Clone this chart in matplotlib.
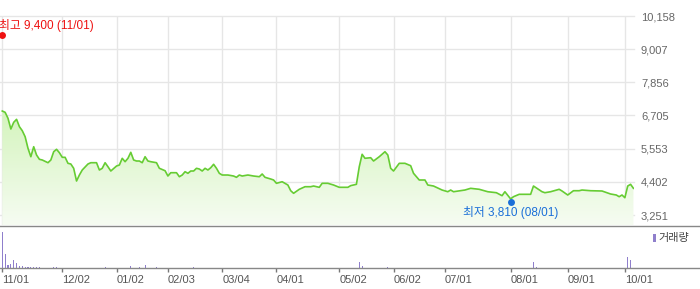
import numpy as np
import matplotlib
matplotlib.use('Agg')
import matplotlib.pyplot as plt
import matplotlib.transforms as mtransforms
from matplotlib.colors import LinearSegmentedColormap
from matplotlib.lines import Line2D
from matplotlib.patches import Rectangle

plt.rcParams['font.family'] = ['Liberation Sans', 'Noto Sans CJK KR']

# trading day index (0 = 11/01) and closing price
day = [0, 1, 2, 3, 4, 5, 6, 7, 8, 9, 10, 11, 12, 13, 14, 16, 17, 18, 19, 20,
       21, 22, 23, 24, 25, 26, 27, 28, 30, 31, 33, 34, 35, 36, 37, 38, 40, 41, 42, 43,
       44, 45, 46, 47, 48, 49, 50, 51, 52, 54, 55, 57, 58, 59, 61, 62, 63, 64, 65, 66,
       67, 68, 69, 70, 71, 72, 73, 74, 75, 76, 77, 79, 81, 82, 83, 84, 86, 88, 90, 91,
       92, 94, 95, 96, 98, 100, 101, 102, 104, 106, 108, 109, 111, 112, 114, 116, 118, 121, 122, 124,
       125, 126, 127, 129, 130, 132, 134, 135, 136, 137, 139, 141, 143, 144, 146, 148, 149, 151, 152, 154,
       156, 157, 158, 162, 164, 167, 170, 173, 175, 176, 178, 179, 181, 185, 186, 189, 190, 192, 195, 196,
       198, 200, 202, 203, 206, 210, 213, 215, 216, 217, 218, 219, 220, 221]
price = [6860, 6815, 6607, 6236, 6468, 6572, 6316, 6177, 5968, 5566, 5274, 5621, 5333, 5184, 5160, 5066, 5160, 5448, 5531, 5413,
         5253, 5253, 5045, 5021, 4872, 4431, 4639, 4813, 5021, 5066, 5066, 4813, 4872, 5066, 4927, 4778, 4951, 4986, 5219, 5101,
         5219, 5427, 5160, 5125, 5125, 5066, 5274, 5125, 5101, 5066, 4872, 4788, 4604, 4719, 4719, 4580, 4639, 4754, 4698, 4778,
         4778, 4872, 4847, 4778, 4872, 4813, 4893, 5011, 4872, 4698, 4639, 4639, 4604, 4559, 4639, 4604, 4639, 4604, 4580, 4674,
         4559, 4500, 4466, 4351, 4406, 4292, 4094, 4004, 4143, 4233, 4233, 4257, 4212, 4351, 4351, 4292, 4212, 4212, 4270, 4316,
         4927, 5358, 5219, 5240, 5125, 5274, 5448, 5333, 4872, 4778, 5045, 5045, 4962, 4698, 4466, 4466, 4292, 4257, 4212, 4118,
         4059, 4118, 4059, 4118, 4177, 4143, 4059, 4025, 3921, 4059, 3810, 3886, 3969, 3969, 4257, 4059, 4025, 4059, 4143, 4084,
         3945, 4094, 4094, 4118, 4094, 4084, 3980, 3945, 3886, 3945, 3851, 4257, 4316, 4177]

# volume (relative units)
vol_day = [0, 1, 2, 3, 4, 5, 6, 7, 8, 9, 10, 11, 12, 13, 18, 19, 36, 45, 48, 50,
           54, 67, 125, 126, 135, 186, 187, 219, 220]
volume = [3630, 1370, 300, 370, 800, 470, 230, 230, 130, 130, 130, 130, 130, 130, 130, 130, 130, 230, 130, 330,
          130, 130, 570, 230, 130, 570, 130, 1070, 770]

tick_day = [0, 21, 40, 58, 77, 96, 118, 137, 155, 178, 198, 218]
tick_label = ['11/01', '12/02', '01/02', '02/03', '03/04', '04/01',
              '05/02', '06/02', '07/01', '08/01', '09/01', '10/01']
price_ticks = [3251, 4402, 5553, 6705, 7856, 9007, 10158]

high_day, high_price, high_date = 0, 9400, '11/01'
low_day, low_price, low_date = 178, 3810, '08/01'

W, H = 700, 289
fig = plt.figure(figsize=(W / 100, H / 100), dpi=100)

# price panel
ax = fig.add_axes([0, 1 - 225 / H, 634 / W, (225 - 16) / H])
for s in ax.spines.values():
    s.set_visible(False)
for p in price_ticks:
    ax.axhline(p, color='#e6e6e6', lw=1, zorder=0, clip_on=False)
for d in tick_day:
    ax.axvline(d, color='#e6e6e6', lw=1, zorder=0)
ax.set_xticks([])
ax.yaxis.tick_right()
ax.set_yticks(price_ticks)
ax.set_yticklabels(['{:,}'.format(p) for p in price_ticks])
ax.tick_params(axis='y', length=0, pad=5, labelsize=8, labelcolor='#666666')

# gradient fill under the line
cmap = LinearSegmentedColormap.from_list('g', ['#f6fcf2', '#d4f4bd'])
grad = np.linspace(0, 1, 256).reshape(-1, 1)
im = ax.imshow(grad, cmap=cmap, aspect='auto', origin='lower',
               extent=[day[0], day[-1], 2904, max(price)], zorder=1)
poly = ax.fill_between(day, price, 2904, color='none', lw=0)
im.set_clip_path(poly.get_paths()[0], transform=ax.transData)
ax.set_xlim(-0.8, 221.2)
ax.set_ylim(2904, 10158)

ax.plot(day, price, color='#66cc33', lw=1.2, zorder=3)

# high / low markers
up = ax.transData + mtransforms.ScaledTranslation(0, 0.03, fig.dpi_scale_trans)
down = ax.transData + mtransforms.ScaledTranslation(0, -0.03, fig.dpi_scale_trans)
ax.plot([high_day], [high_price], 'o', color='#ee1111', ms=5, mec='none',
        transform=up, clip_on=False, zorder=4)
ax.plot([low_day], [low_price], 'o', color='#1a6fd8', ms=5, mec='none',
        transform=down, clip_on=False, zorder=4)
ax.annotate('최고 {:,} ({})'.format(high_price, high_date), xy=(high_day, high_price),
            xytext=(-2.4, 9.2), textcoords='offset points', ha='left', va='center',
            fontsize=8.5, color='#ee1111', annotation_clip=False)
ax.annotate('최저 {:,} ({})'.format(low_price, low_date), xy=(low_day, low_price),
            xytext=(0, -9.6), textcoords='offset points', ha='center', va='center',
            fontsize=8.5, color='#1a6fd8', annotation_clip=False)

# volume panel
vax = fig.add_axes([0, 1 - 268 / H, 634 / W, (268 - 227) / H])
vax.set_xlim(-0.8, 221.2)
vax.set_ylim(0, 4100)
for s in vax.spines.values():
    s.set_visible(False)
vax.bar(vol_day, volume, width=0.4, color='#8f7fcc', lw=0)
vax.set_yticks([])
vax.set_xticks(tick_day)
vax.set_xticklabels(tick_label, ha='left')
vax.tick_params(axis='x', length=3, width=1, color='#777777', pad=2,
                labelsize=8, labelcolor='#555555')

# separators
fig.add_artist(Line2D([0, 1], [1 - 225.5 / H] * 2, color='#888888', lw=1))
fig.add_artist(Line2D([0, 1], [1 - 268 / H] * 2, color='#888888', lw=1))

# legend
fig.add_artist(Rectangle((653 / W, 1 - 242 / H), 2.5 / W, 8 / H,
                         color='#8f7fcc', lw=0))
fig.text(658 / W, 1 - 238 / H, '거래량', fontsize=8, color='#444444',
         ha='left', va='center')

fig.savefig('out.png', dpi=100)
